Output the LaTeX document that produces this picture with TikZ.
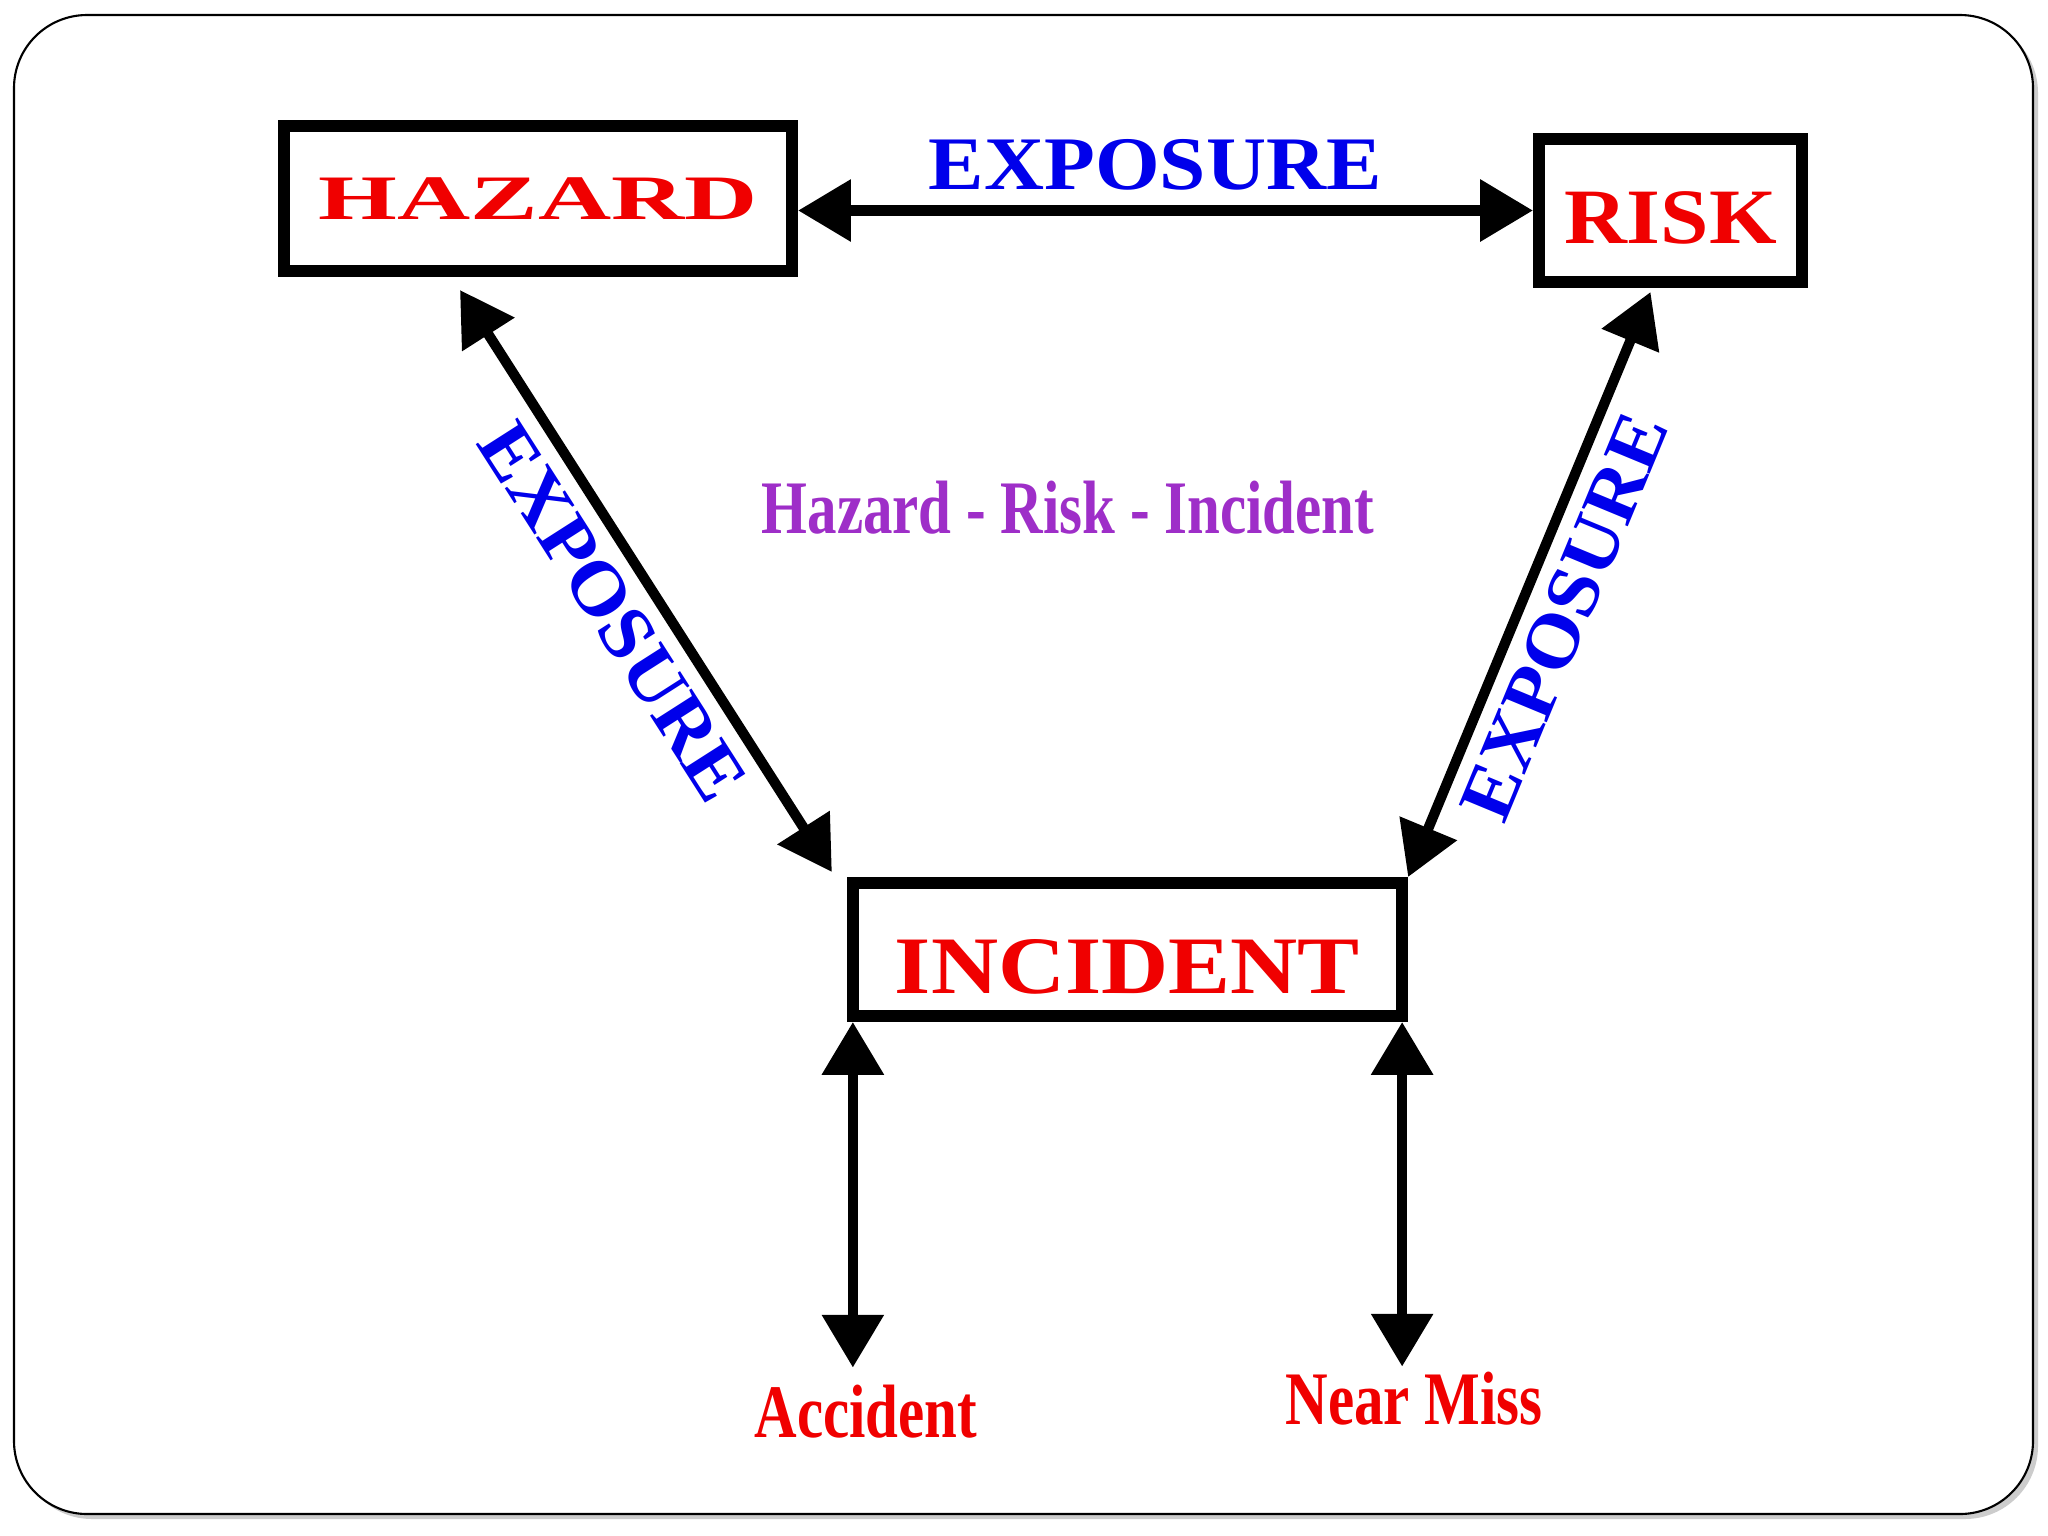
\documentclass[tikz,border=0pt]{standalone}
\usepackage{fontspec}
\setmainfont{Liberation Serif}
\usepackage{graphicx}
\usetikzlibrary{arrows.meta,calc,shadows}

\definecolor{riskred}{RGB}{240,0,0}
\definecolor{expblue}{RGB}{0,0,235}
\definecolor{titlepurple}{RGB}{158,46,200}

\tikzset{
  box/.style={draw=black, line width=3.4pt, rectangle, inner sep=0pt, text=riskred, text depth=0pt},
  dblarrow/.style={{Triangle[length=15pt,width=17pt]}-{Triangle[length=15pt,width=17pt]}, line width=2.9pt},
  expo/.style={text=expblue, inner sep=0.14cm, font=\bfseries\fontsize{21.5}{24}\selectfont},
  outcome/.style={text=riskred, inner sep=0pt, font=\bfseries\fontsize{21.5}{24}\selectfont}
}

\begin{document}
\begin{tikzpicture}[x=0.01cm, y=-0.01cm]
        % Cornice
        \path[use as bounding box, fill=white] (0,0) rectangle (2048,1536);
        \draw[line width=0.6pt, rounded corners=0.73cm, fill=white,
              drop shadow={shadow xshift=0.05cm, shadow yshift=-0.05cm, opacity=0.4}] (14,15) rectangle (2033,1514);

        % Riquadri
        \node[box, minimum width=5.08cm, minimum height=1.45cm, font=\bfseries\fontsize{18}{20}\selectfont]
            (hazard) at (538,198.5) {\scalebox{1.6}[1]{HAZARD}};
        \node[box, minimum width=2.63cm, minimum height=1.43cm, text height=0.65cm, font=\bfseries\fontsize{22.3}{25}\selectfont]
            (risk) at (1670.5,210.5) {\scalebox{1.11}[1]{RISK}};
        \node[box, minimum width=5.49cm, minimum height=1.33cm, text height=0.87cm, font=\bfseries\fontsize{23.2}{26}\selectfont]
            (incident) at (1127.5,949.5) {\scalebox{1.14}[1]{INCIDENT}};

        % Titolo centrale
        \node[text=titlepurple, inner sep=0pt, font=\bfseries\fontsize{21.5}{24}\selectfont]
            (title) at (1068,508) {\scalebox{0.78}[1]{Hazard - Risk - Incident}};

        % Esposizione
        \draw[dblarrow] (risk.west -| hazard.east) -- (risk.west)
            node[expo, inner sep=0.15cm, pos=0.486, above] {\scalebox{1.1}[1]{EXPOSURE}};
        \draw[dblarrow] ($(hazard.south)+(-78,13)$) -- ($(incident.north west)+(-15,-5)$)
            node[expo, pos=0.512, sloped, below] {\scalebox{1.05}[1]{EXPOSURE}};
        \draw[dblarrow] (incident.north east) -- ($(risk.south)+(-20,4)$)
            node[expo, pos=0.474, sloped, below] {\scalebox{1.05}[1]{EXPOSURE}};

        % Esiti
        \node[outcome, outer sep=0.17cm, anchor=base] (accident) at (866,1437) {\scalebox{0.78}[1]{Accident}};
        \node[outcome, outer sep=0.05cm, anchor=base] (nearmiss) at (1414,1424) {\scalebox{0.78}[1]{Near Miss}};
        \draw[dblarrow] ($(incident.south west)+(6,0)$) -- ($(incident.south west |- accident.north)+(6,0)$);
        \draw[dblarrow] ($(incident.south east)+(-6,0)$) -- ($(incident.south east |- nearmiss.north)+(-6,0)$);
    \end{tikzpicture}
\end{document}
